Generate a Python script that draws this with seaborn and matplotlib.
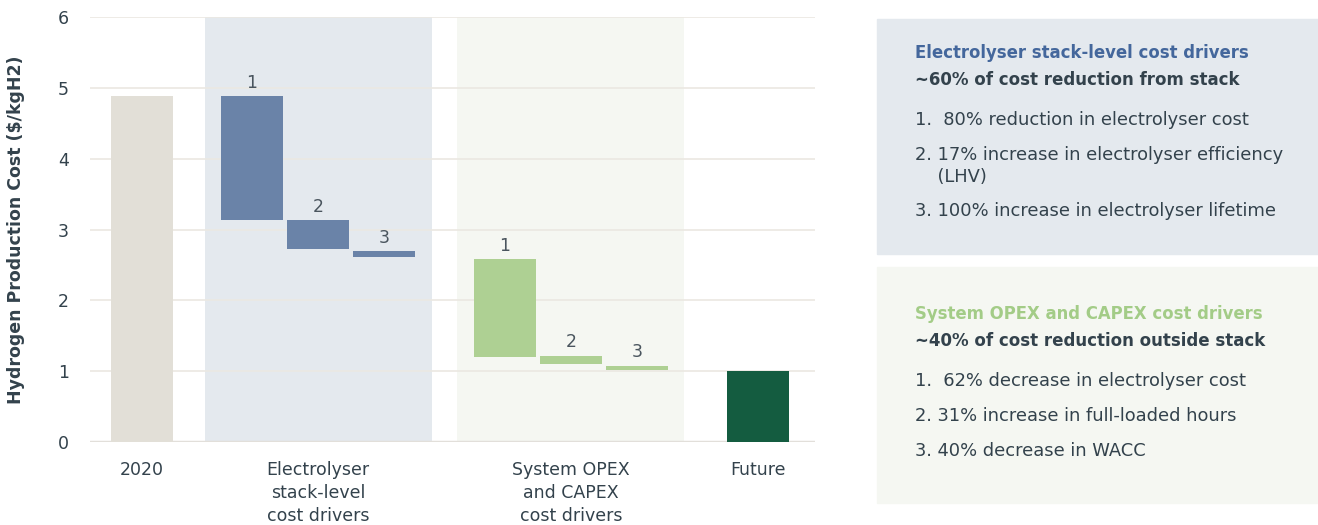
import matplotlib
matplotlib.use("Agg")
import matplotlib.pyplot as plt
import seaborn as sns
import numpy as np

# --- data ($/kgH2) ---
start_label = "2020"
start_value = 4.88
stack_tops = [4.88, 3.13, 2.70]
stack_bottoms = [3.13, 2.73, 2.61]
system_tops = [2.58, 1.22, 1.08]
system_bottoms = [1.20, 1.10, 1.02]
future_label = "Future"
future_value = 1.0
step_labels = ["1", "2", "3"]
category_labels = ["2020", "Electrolyser\nstack-level\ncost drivers",
                   "System OPEX\nand CAPEX\ncost drivers", "Future"]
y_ticks = [0, 1, 2, 3, 4, 5, 6]

stack_title = "Electrolyser stack-level cost drivers"
stack_sub = "~60% of cost reduction from stack"
stack_items = ["1.  80% reduction in electrolyser cost",
               "2. 17% increase in electrolyser efficiency\n    (LHV)",
               "3. 100% increase in electrolyser lifetime"]
system_title = "System OPEX and CAPEX cost drivers"
system_sub = "~40% of cost reduction outside stack"
system_items = ["1.  62% decrease in electrolyser cost",
                "2. 31% increase in full-loaded hours",
                "3. 40% decrease in WACC"]

# colours
c_start = "#e2dfd7"
c_stack = "#6a83a8"
c_stack_bg = "#e4e9ee"
c_sys = "#aed093"
c_sys_bg = "#f5f7f2"
c_future = "#145c40"
c_grid = "#ebe8e2"
c_text = "#33424c"
c_blue = "#44679c"
c_green = "#a3cc87"

sns.set_theme(style="white")
plt.rcParams["font.family"] = ["DejaVu Sans"]

fig = plt.figure(figsize=(13.18, 5.25), dpi=100)
ax = fig.add_axes([0.0683, 0.158, 0.5501, 0.8096])

# layout (bar width and group positions)
w = 0.94
group_x = [0.0, 2.667, 6.5, 9.33]
offsets = np.array([-1.0, 0.0, 1.0])
stack_x = group_x[1] + offsets
sys_x = group_x[2] + offsets

# shaded bands behind the driver groups
ax.axvspan(group_x[1] - 1.72, group_x[1] + 1.72, color=c_stack_bg, zorder=0, lw=0)
ax.axvspan(group_x[2] - 1.72, group_x[2] + 1.72, color=c_sys_bg, zorder=0, lw=0)

for y in y_ticks[1:]:
    ax.axhline(y, color=c_grid, lw=1.2, zorder=0.5)
ax.axhline(0, color="#e2dfda", lw=2.5, zorder=0.5)

bar_kw = dict(width=w, linewidth=0, zorder=2)
ax.bar(group_x[0], start_value, color=c_start, **bar_kw)
ax.bar(stack_x, np.array(stack_tops) - np.array(stack_bottoms), bottom=stack_bottoms,
       color=c_stack, **bar_kw)
ax.bar(sys_x, np.array(system_tops) - np.array(system_bottoms), bottom=system_bottoms,
       color=c_sys, **bar_kw)
ax.bar(group_x[3], future_value, color=c_future, **bar_kw)

for xs, tops in [(stack_x, stack_tops), (sys_x, system_tops)]:
    for x, t, lab in zip(xs, tops, step_labels):
        ax.text(x, t + 0.06, lab, ha="center", va="bottom", fontsize=12.5,
                color="#4a555e")

ax.set_xlim(-0.79, 10.2)
ax.set_ylim(0, 6)
ax.set_yticks(y_ticks)
ax.set_yticklabels([str(v) for v in y_ticks], fontsize=12.5, color=c_text)
ax.tick_params(axis="y", length=0, pad=15)
ax.set_xticks(group_x)
ax.set_xticklabels(category_labels, fontsize=12.5, color=c_text, linespacing=1.35, va="top")
ax.tick_params(axis="x", length=0, pad=14)
ax.set_ylabel("Hydrogen Production Cost ($/kgH2)", fontsize=12.5, fontweight="bold",
              color=c_text, labelpad=24)
sns.despine(ax=ax, left=True, bottom=True)

# side panels
def panel(y0, y1, bg, title, tcolor, title_y, sub, items, item_y):
    H = 525.0
    fig.patches.append(plt.Rectangle((877 / 1318, 1 - y1 / H), 441 / 1318, (y1 - y0) / H,
                                     transform=fig.transFigure, color=bg, zorder=0))
    tx = 915 / 1318
    fig.text(tx, 1 - title_y / H, title, color=tcolor, fontsize=11.9, fontweight="bold",
             va="center")
    fig.text(tx, 1 - (title_y + 27) / H, sub, color=c_text, fontsize=12, fontweight="bold",
             va="center")
    for it, yy in zip(items, item_y):
        fig.text(tx, 1 - yy / H, it, color=c_text, fontsize=12.9, va="top", linespacing=1.25)

panel(19, 254, "#e4e9ee", stack_title, c_blue, 53, stack_sub, stack_items, [111, 146, 202])
panel(267, 503, "#f5f7f2", system_title, c_green, 314, system_sub, system_items, [372, 407, 442])

fig.savefig("out.png", dpi=100)
